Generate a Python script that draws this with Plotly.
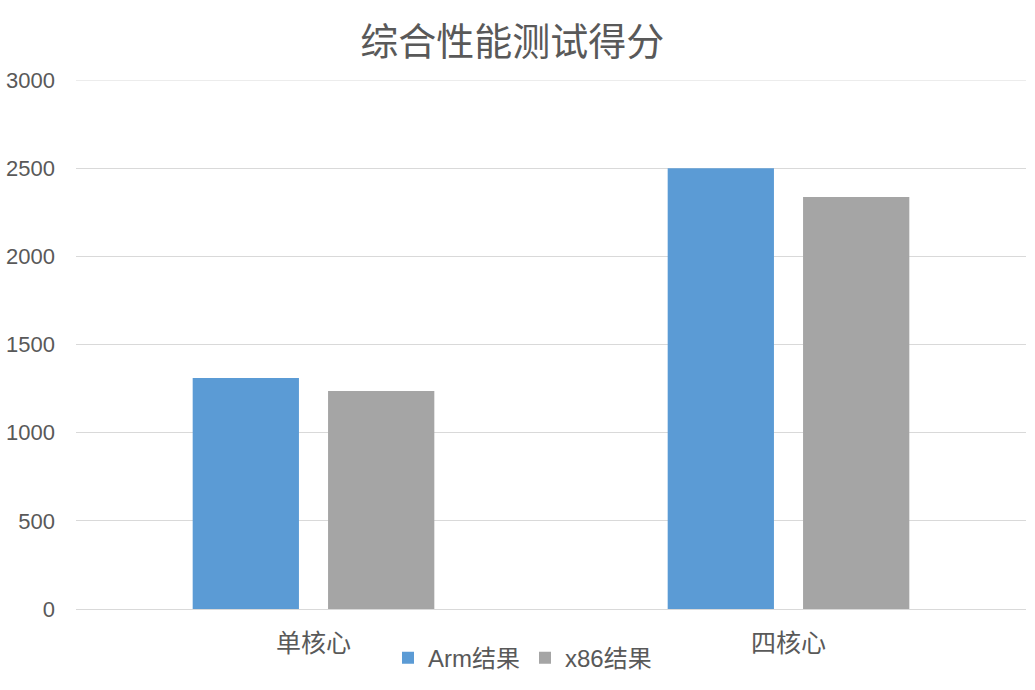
import plotly.graph_objects as go

categories = ["单核心", "四核心"]
arm_values = [1310, 2500]
x86_values = [1236, 2336]
series_names = ["Arm结果", "x86结果"]
y_ticks = [0, 500, 1000, 1500, 2000, 2500, 3000]

FONT = "Liberation Sans, Arial, Noto Sans CJK SC, sans-serif"
GRAY = "#595959"
GRID = "#D9D9D9"

fig = go.Figure()
fig.add_trace(go.Bar(x=categories, y=arm_values, name=series_names[0],
                     marker=dict(color="#5B9BD5", line=dict(width=0))))
fig.add_trace(go.Bar(x=categories, y=x86_values, name=series_names[1],
                     marker=dict(color="#A5A5A5", line=dict(width=0))))

fig.add_shape(type="line", xref="paper", yref="y", x0=0, x1=1,
              y0=y_ticks[-1], y1=y_ticks[-1], line=dict(color=GRID, width=1), layer="below")

fig.update_layout(
    width=1035, height=690,
    margin=dict(l=76, r=9, t=80, b=81),
    paper_bgcolor="white", plot_bgcolor="white",
    barmode="group", bargap=0.43, bargroupgap=0.215,
    title=dict(text="综合性能测试得分", x=0.495, xanchor="center", y=0.94, yanchor="middle",
               font=dict(family=FONT, size=38, color=GRAY)),
    font=dict(family=FONT, color=GRAY, size=16),
    legend=dict(orientation="h", x=0.47, xanchor="center", y=-0.093, yanchor="middle",
                font=dict(family=FONT, size=24, color=GRAY), itemwidth=30,
                traceorder="normal"),
    showlegend=True,
)
fig.update_yaxes(range=[0, 3000], tickvals=y_ticks, showgrid=True, gridcolor=GRID,
                 gridwidth=1, zeroline=True, zerolinecolor=GRID, zerolinewidth=1,
                 showline=False, ticks="", ticklabelstandoff=20, automargin=False,
                 tickfont=dict(family=FONT, size=22, color=GRAY))
fig.update_xaxes(showline=True, linecolor=GRID, linewidth=1, ticks="",
                 ticklabelstandoff=12, automargin=False,
                 tickfont=dict(family=FONT, size=25, color=GRAY))

fig.write_html("out.html")
